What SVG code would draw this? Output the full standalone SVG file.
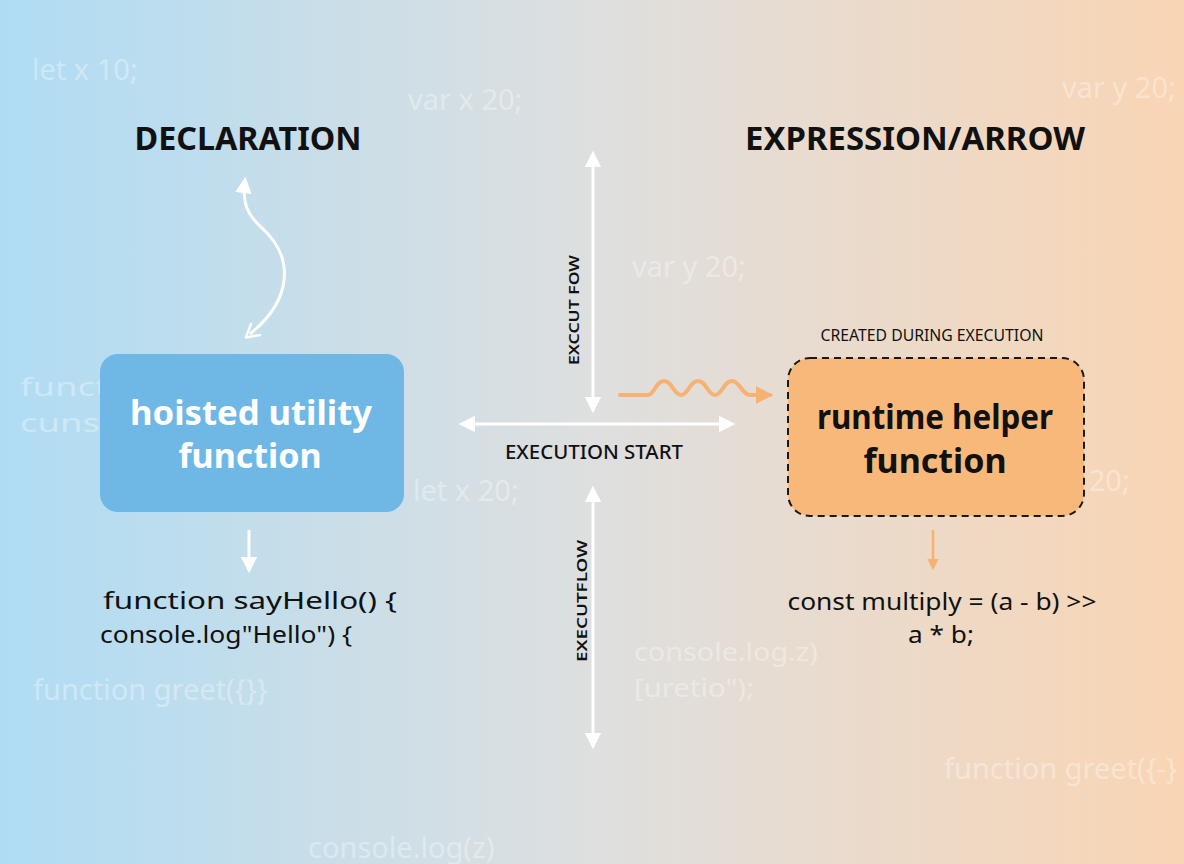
<svg xmlns="http://www.w3.org/2000/svg" width="1184" height="864" viewBox="0 0 1184 864">
<defs>
<linearGradient id="bg" x1="0" y1="0" x2="1" y2="0">
<stop offset="0" stop-color="#afdcf4"/>
<stop offset="0.5" stop-color="#dedfdf"/>
<stop offset="1" stop-color="#f9d5b4"/>
</linearGradient>
<marker id="wh" viewBox="0 0 10 10" refX="8" refY="5" markerWidth="5.5" markerHeight="5.5" orient="auto-start-reverse" markerUnits="strokeWidth">
<path d="M0,0 L10,5 L0,10 Z" fill="#ffffff"/>
</marker>
<marker id="wo" viewBox="0 0 10 10" refX="5" refY="5" markerWidth="6" markerHeight="6" orient="auto-start-reverse" markerUnits="strokeWidth">
<path d="M1,1 L8,5 L1,9" fill="none" stroke="#ffffff" stroke-width="1.4" stroke-linecap="round" stroke-linejoin="round"/>
</marker>
<marker id="or" viewBox="0 0 10 10" refX="8" refY="5" markerWidth="4.5" markerHeight="4.5" orient="auto" markerUnits="strokeWidth">
<path d="M0,0 L10,5 L0,10 Z" fill="#f5b273"/>
</marker>
</defs>
<style>
.ghost{font-family:"Noto Sans","Open Sans",sans-serif;font-size:29px;fill:#ffffff;fill-opacity:0.35}
.g2{font-size:26px}
.head{font-family:"Noto Sans","Open Sans",sans-serif;font-size:32px;font-weight:700;fill:#111111;text-anchor:middle}
.code{font-family:"Noto Sans","Open Sans",sans-serif;font-size:24px;fill:#111111;text-anchor:middle}
.small{font-family:"Noto Sans","Open Sans",sans-serif;font-size:16px;fill:#111111;text-anchor:middle}
.lbl{font-family:"Noto Sans","Open Sans",sans-serif;font-size:20px;font-weight:500;fill:#111111;text-anchor:middle}
.vl{font-family:"Noto Sans","Open Sans",sans-serif;font-size:15px;font-weight:600;fill:#111111;text-anchor:middle}
.box{font-family:"Noto Sans","Open Sans",sans-serif;font-size:34px;font-weight:700;text-anchor:middle}
.wline{fill:none;stroke:#ffffff;stroke-width:3}
</style>
<rect x="0" y="0" width="1184" height="864" fill="url(#bg)"/>

<g id="background-code">
<text class="ghost" x="32" y="80">let x 10;</text>
<text class="ghost" x="408" y="110">var x 20;</text>
<text class="ghost" x="1062" y="98">var y 20;</text>
<text class="ghost" x="632" y="277">var y 20;</text>
<text class="ghost g2" x="20" y="396" textLength="142" lengthAdjust="spacingAndGlyphs">function</text>
<text class="ghost g2" x="20" y="432" textLength="132" lengthAdjust="spacingAndGlyphs">cunsole</text>
<text class="ghost" x="413" y="501">let x 20;</text>
<text class="ghost" x="1024" y="491">let x 20;</text>
<text class="ghost" x="33" y="700">function greet({}}</text>
<text class="ghost g2" x="634" y="661" textLength="184" lengthAdjust="spacingAndGlyphs">console.log.z)</text>
<text class="ghost g2" x="634" y="697" textLength="120" lengthAdjust="spacingAndGlyphs">[uretio");</text>
<text class="ghost" x="944" y="779">function greet({-}</text>
<text class="ghost" x="308" y="858">console.log(z)</text>
</g>

<g id="headings">
<text class="head" x="248" y="150" textLength="227" lengthAdjust="spacingAndGlyphs">DECLARATION</text>
<text class="head" x="915" y="150" textLength="340" lengthAdjust="spacingAndGlyphs">EXPRESSION/ARROW</text>
</g>

<g id="connectors">
<path class="wline" stroke-width="3.5" d="M245,180 C242,205 248,215 262,228 C295,258 292,300 250,334" marker-start="url(#wh)" marker-end="url(#wo)"/>
<line class="wline" x1="249" y1="530" x2="249" y2="570" stroke-width="2.5" marker-end="url(#wh)"/>
<line class="wline" x1="593" y1="154" x2="593" y2="410" stroke-width="2.5" marker-start="url(#wh)" marker-end="url(#wh)"/>
<line class="wline" x1="462" y1="424" x2="732" y2="424" stroke-width="2.5" marker-start="url(#wh)" marker-end="url(#wh)"/>
<line class="wline" x1="593" y1="489" x2="593" y2="746" stroke-width="2.5" marker-start="url(#wh)" marker-end="url(#wh)"/>
<path d="M620,395 L648,395 C654,395 656,381 664,381 C672,381 674,395 681,395 C688,395 690,381 698,381 C706,381 708,395 715,395 C722,395 724,381 732,381 C740,381 742,395 750,395 L770,395" fill="none" stroke="#f5b273" stroke-width="4" stroke-linecap="round" marker-end="url(#or)"/>
<line x1="933" y1="530" x2="933" y2="568" stroke="#f5b273" stroke-width="2.5" marker-end="url(#or)"/>
<text class="vl" transform="translate(579,310) rotate(-90)" textLength="110" lengthAdjust="spacingAndGlyphs">EXCCUT FOW</text>
<text class="vl" transform="translate(587,601) rotate(-90)" textLength="122" lengthAdjust="spacingAndGlyphs">EXECUTFLOW</text>
<text class="lbl" x="594" y="459" textLength="178" lengthAdjust="spacingAndGlyphs">EXECUTION START</text>
</g>

<g id="hoisted-node">
<rect x="100" y="354" width="304" height="158" rx="18" fill="#6fb8e6"/>
<text class="box" x="251" y="425" fill="#ffffff" textLength="242" lengthAdjust="spacingAndGlyphs">hoisted utility</text>
<text class="box" x="250" y="468" fill="#ffffff">function</text>
</g>

<g id="hoisted-code">
<text class="code" x="250" y="609" textLength="294" lengthAdjust="spacingAndGlyphs">function sayHello() {</text>
<text class="code" x="226" y="643" textLength="252" lengthAdjust="spacingAndGlyphs">console.log"Hello") {</text>
</g>

<g id="runtime-node">
<text class="small" x="932" y="341" textLength="223" lengthAdjust="spacingAndGlyphs">CREATED DURING EXECUTION</text>
<rect x="788" y="358" width="296" height="158" rx="22" fill="#f7b87a" stroke="#1a1a1a" stroke-width="2" stroke-dasharray="7,5"/>
<text class="box" x="935" y="429" fill="#111111" textLength="236" lengthAdjust="spacingAndGlyphs">runtime helper</text>
<text class="box" x="935" y="473" fill="#111111">function</text>
</g>

<g id="runtime-code">
<text class="code" x="942" y="610" textLength="309" lengthAdjust="spacingAndGlyphs">const multiply = (a - b) &gt;&gt;</text>
<text class="code" x="941" y="643" textLength="66" lengthAdjust="spacingAndGlyphs">a * b;</text>
</g>
</svg>
